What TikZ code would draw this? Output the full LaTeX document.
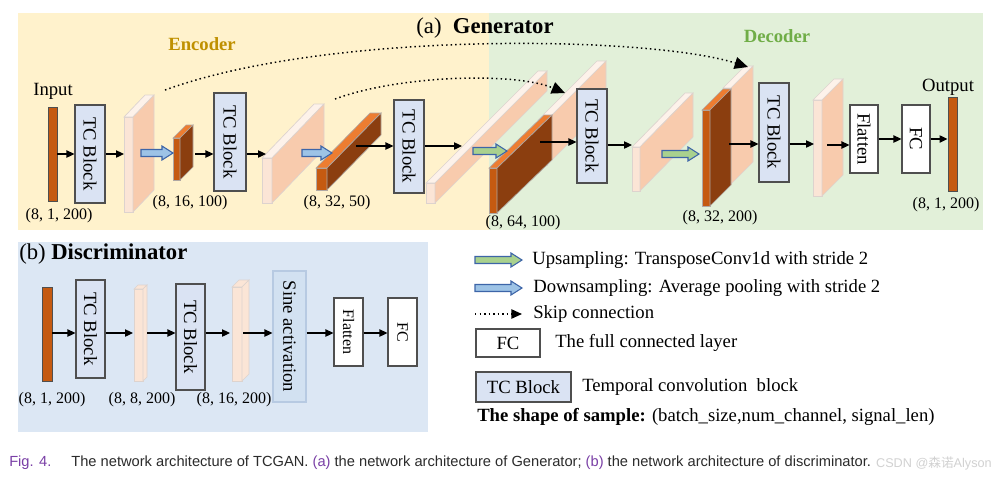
\documentclass[tikz,border=0pt]{standalone}
\usepackage{fontspec}
\usepackage{graphicx}
\setmainfont{Liberation Serif}
\newfontfamily\capfont{Liberation Sans}
\newfontfamily\cjkfont{Noto Sans CJK SC}
\usetikzlibrary{arrows.meta}
\definecolor{ybg}{HTML}{FFF2CC}
\definecolor{gbg}{HTML}{E2F0D9}
\definecolor{bbg}{HTML}{DCE7F4}
\definecolor{tcfill}{HTML}{DAE3F3}
\definecolor{tcdraw}{HTML}{4F4F4F}
\definecolor{pale}{HTML}{FBE5D6}
\definecolor{paletop}{HTML}{FDF2EA}
\definecolor{salmon}{HTML}{F8CBAD}
\definecolor{pdraw}{HTML}{DDD3CE}
\definecolor{dfront}{HTML}{C55A11}
\definecolor{dtop}{HTML}{ED7D31}
\definecolor{dside}{HTML}{8B3E0F}
\definecolor{ddraw}{HTML}{B0A8A4}
\definecolor{upc}{HTML}{A9D18E}
\definecolor{downc}{HTML}{9DC3E6}
\definecolor{arrdraw}{HTML}{3D65A8}
\definecolor{enc}{HTML}{BF9000}
\definecolor{dec}{HTML}{70AD47}
\definecolor{sinefill}{HTML}{D2E1F1}
\definecolor{sinedraw}{HTML}{B7CAE2}
\definecolor{capp}{HTML}{7A3FA6}
\definecolor{captext}{HTML}{2B2B2B}
\newcommand\cuboid[9]{%
  \filldraw[#7] (#1,#2) rectangle (#3,#4);
  \filldraw[#8] (#1,#2) -- (#3,#2) -- (#3+#5,#2-#6) -- (#1+#5,#2-#6) -- cycle;
  \filldraw[#9] (#3,#2) -- (#3+#5,#2-#6) -- (#3+#5,#4-#6) -- (#3,#4) -- cycle;}
\newcommand\fatarrow[4]{%
  \filldraw[#4] (#1,#3-3.5) -- (#2-11,#3-3.5) -- (#2-11,#3-7) -- (#2,#3) -- (#2-11,#3+7) -- (#2-11,#3+3.5) -- (#1,#3+3.5) -- cycle;}
\begin{document}
\begin{tikzpicture}[x=0.75pt,y=-0.75pt,
  sz/.style 2 args={minimum width={#1*0.75pt}, minimum height={#2*0.75pt}},
  tc/.style={draw=tcdraw, fill=tcfill, line width=0.8pt, inner sep=0pt, font=\fontsize{14}{16}\selectfont},
  wbox/.style={draw=tcdraw, fill=white, line width=0.8pt, inner sep=0pt, font=\fontsize{14}{16}\selectfont},
  sinebox/.style={draw=sinedraw, fill=sinefill, line width=0.8pt, inner sep=0pt, font=\fontsize{14}{16}\selectfont},
  bar/.style={draw=tcdraw, fill=dfront, line width=0.7pt, inner sep=0pt},
  lab/.style={font=\fontsize{12}{14}\selectfont, inner sep=0pt},
  big/.style={font=\fontsize{14}{16}\selectfont, inner sep=0pt},
  leg/.style={font=\fontsize{14}{16}\selectfont, inner sep=0pt, anchor=west},
  conn/.style={line width=0.9pt, -{Triangle[length=6pt,width=5.5pt]}},
  skip/.style={line width=1.1pt, dash pattern=on 1.1pt off 2.3pt, -{Triangle[length=10pt,width=9pt]}},
  pf/.style={fill=pale, draw=pdraw, line width=0.5pt},
  pt/.style={fill=paletop, draw=pdraw, line width=0.5pt},
  ps/.style={fill=salmon, draw=pdraw, line width=0.5pt},
  bs/.style={fill=pale, draw=pdraw, line width=0.5pt},
  df/.style={fill=dfront, draw=ddraw, line width=0.5pt},
  dt/.style={fill=dtop, draw=ddraw, line width=0.5pt},
  ds/.style={fill=dside, draw=ddraw, line width=0.5pt},
  up/.style={fill=upc, draw=arrdraw, line width=0.8pt},
  down/.style={fill=downc, draw=arrdraw, line width=0.8pt}]
\useasboundingbox (0,0) rectangle (995,480);
\fill[white] (0,0) rectangle (995,480);
% panels
\fill[ybg] (18,13) rectangle (489,230);
\fill[gbg] (489,13) rectangle (983,230);
\fill[bbg] (18,242) rectangle (428,432);
% titles
\node[font=\fontsize{17}{19}\selectfont, inner sep=0pt] (gtitle) at (485,28) {(a)\ \ \textbf{Generator}};
\node[big, text=enc] (enc) at (202,44) {\textbf{Encoder}};
\node[big, text=dec] (dec) at (777,36) {\textbf{Decoder}};
% generator feature maps
\cuboid{124}{117}{133}{212}{21}{22}{pf}{pt}{ps}
\cuboid{173}{138}{180}{180}{13}{13}{df}{dt}{ds}
\cuboid{262}{158}{272}{203}{52}{54}{pf}{pt}{ps}
\cuboid{316}{168}{327}{190}{54}{55}{df}{dt}{ds}
\cuboid{426}{183}{435}{203}{112}{112}{pf}{pt}{ps}
\cuboid{538}{120}{547}{165}{59}{59}{pf}{pt}{ps}
\cuboid{489}{168}{497}{213}{55}{53}{df}{dt}{ds}
\cuboid{632}{147}{640}{191}{53}{54}{pf}{pt}{ps}
\cuboid{723}{88}{731}{184}{22}{22}{pf}{pt}{ps}
\cuboid{702}{110}{710}{206}{21}{21}{df}{dt}{ds}
\cuboid{813}{100}{822}{196}{21}{21}{pf}{pt}{ps}
% generator nodes
\node[bar, sz={9}{94}] (in) at (52.5,154) {};
\node[tc, sz={30}{98}] (tc1) at (90,154) {\rotatebox{-90}{TC Block}};
\node[tc, sz={32}{98}] (tc2) at (230,142) {\rotatebox{-90}{TC Block}};
\node[tc, sz={30}{93}] (tc3) at (409,146.5) {\rotatebox{-90}{TC Block}};
\node[tc, sz={30}{94}] (tc4) at (592,136) {\rotatebox{-90}{TC Block}};
\node[tc, sz={30}{99}] (tc5) at (774,132.5) {\rotatebox{-90}{TC Block}};
\node[wbox, sz={28}{68}] (flat) at (864,139) {\rotatebox{-90}{Flatten}};
\node[wbox, sz={28}{68}] (fc) at (916,139) {\rotatebox{-90}{FC}};
\node[bar, sz={9}{94}] (out) at (952.5,144) {};
\node[big] (inlab) at (53,91) {Input};
\node[big] (outlab) at (948,87) {Output};
% shape labels
\node[lab] (l1) at (59,216) {(8, 1, 200)};
\node[lab] (l2) at (190,203) {(8, 16, 100)};
\node[lab] (l3) at (337,203) {(8, 32, 50)};
\node[lab] (l4) at (523,223) {(8, 64, 100)};
\node[lab] (l5) at (720,218) {(8, 32, 200)};
\node[lab] (l6) at (946,205) {(8, 1, 200)};
% sampling arrows
\fatarrow{141}{173}{153}{down}
\fatarrow{302}{332}{153}{down}
\fatarrow{473}{507}{151}{up}
\fatarrow{662}{699}{154}{up}
% connector coordinates
\coordinate (s1a) at (124,154);
\coordinate (d1b) at (195,154);
\coordinate (s2a) at (266,154);
\coordinate (d2b) at (356,146);
\coordinate (s3a) at (462,146);
\coordinate (d3b) at (540,142);
\coordinate (s5a) at (632,145);
\coordinate (d4b) at (729,144);
\coordinate (s7a) at (814,144);
\coordinate (s7b) at (827,145);
\draw[conn] (in) -- (tc1);
\draw[conn] (tc1) -- (s1a);
\draw[conn] (d1b) -- (d1b -| tc2.west);
\draw[conn] (tc2.east |- s2a) -- (s2a);
\draw[conn] (d2b) -- (d2b -| tc3.west);
\draw[conn] (tc3.east |- s3a) -- (s3a);
\draw[conn] (d3b) -- (d3b -| tc4.west);
\draw[conn] (tc4.east |- s5a) -- (s5a);
\draw[conn] (d4b) -- (d4b -| tc5.west);
\draw[conn] (tc5.east |- s7a) -- (s7a);
\draw[conn] (s7b) -- (s7b -| flat.west);
\draw[conn] (flat) -- (fc);
\draw[conn] (fc) -- (fc -| out.west);
% skip connections
\coordinate (k1a) at (165,90);
\coordinate (k1b) at (748,67);
\coordinate (k2a) at (335,99);
\coordinate (k2b) at (565,93);
\draw[skip] (k1a) .. controls (330,30) and (650,36) .. (k1b);
\draw[skip] (k2a) .. controls (400,75) and (515,72) .. (k2b);
% discriminator
\node[anchor=west, inner sep=0pt, font=\fontsize{17}{19}\selectfont] (dtitle) at (19,254) {(b) \textbf{Discriminator}};
\cuboid{134}{289}{143}{381}{4}{4}{bs}{bs}{bs}
\cuboid{232}{287}{242}{381}{7}{7}{bs}{bs}{bs}
\node[bar, sz={10}{94}] (bin) at (47,334) {};
\node[tc, sz={29}{98}] (btc1) at (90.5,329) {\rotatebox{-90}{TC Block}};
\node[tc, sz={29}{106}] (btc2) at (190.5,337) {\rotatebox{-90}{TC Block}};
\node[sinebox, sz={33}{131}] (sine) at (289.5,336.5) {\rotatebox{-90}{Sine activation}};
\node[wbox, sz={29}{68}, font=\fontsize{12}{14}\selectfont] (bflat) at (348.5,332) {\rotatebox{-90}{Flatten}};
\node[wbox, sz={29}{68}, font=\fontsize{12}{14}\selectfont] (bfc) at (402.5,332) {\rotatebox{-90}{FC}};
\coordinate (by) at (0,333);
\coordinate (b1a) at (133,333);
\coordinate (b1b) at (147,333);
\coordinate (b2a) at (230,333);
\coordinate (b2b) at (243,333);
\draw[conn] (bin.east |- by) -- (btc1.west |- by);
\draw[conn] (btc1.east |- by) -- (b1a);
\draw[conn] (b1b) -- (btc2.west |- by);
\draw[conn] (btc2.east |- by) -- (b2a);
\draw[conn] (b2b) -- (sine.west |- by);
\draw[conn] (sine.east |- by) -- (bflat.west |- by);
\draw[conn] (bflat.east |- by) -- (bfc.west |- by);
\node[lab] (bl1) at (52,400) {(8, 1, 200)};
\node[lab] (bl2) at (142,400) {(8, 8, 200)};
\node[lab] (bl3) at (234,400) {(8, 16, 200)};
% legend
\fatarrow{475}{522}{260}{up}
\fatarrow{475}{522}{288}{down}
\coordinate (lsa) at (475,314);
\coordinate (lsb) at (522,314);
\draw[skip, -{Triangle[length=8pt,width=7pt]}] (lsa) -- (lsb);
\node[leg] (t1) at (532,260) {Upsampling: TransposeConv1d with stride 2};
\node[leg] (t2) at (533,288) {Downsampling: Average pooling with stride 2};
\node[leg] (t3) at (533,314) {Skip connection};
\node[wbox, sz={64}{28}] (lfc) at (508,343) {FC};
\node[leg] (t4) at (555,343) {The full connected layer};
\node[tc, sz={95}{30}] (ltc) at (523.5,387) {TC Block};
\node[leg] (t5) at (582,387) {Temporal convolution\ \ block};
\node[leg] (t6) at (477,417) {\textbf{The shape of sample:} (batch\_size,num\_channel, signal\_len)};
% caption
\node[anchor=west, inner sep=0pt, font=\capfont\fontsize{11}{13}\selectfont, text=captext] (cap) at (9,463) {{\color{capp}Fig. 4.}\hspace{15pt}The network architecture of TCGAN. {\color{capp}(a)} the network architecture of Generator; {\color{capp}(b)} the network architecture of discriminator.};
\node[anchor=east, inner sep=0pt, font=\capfont\fontsize{9.5}{11}\selectfont, text=gray!45, opacity=0.8] (wm) at (992,463) {CSDN @{\cjkfont 森诺}Alyson};
\end{tikzpicture}
\end{document}
